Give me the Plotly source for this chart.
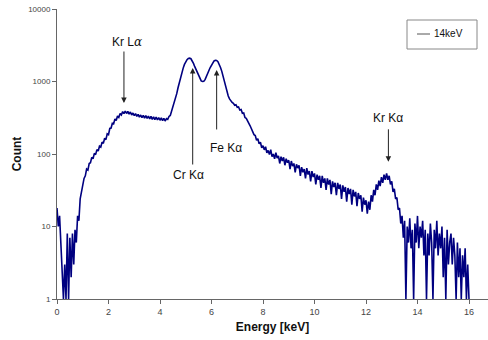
import numpy as np
import plotly.graph_objects as go

# channel energies (keV), 0.05 keV steps
energy_step = 0.05
counts = [
    18, 10, 14, 6, 3, 1, 3, 1, 8, 1, 7, 2, 8, 3, 9, 6, 14, 12, 24, 30,
    37, 46, 50, 62, 60, 74, 76, 90, 86, 102, 98, 115, 110, 128, 124, 146, 140, 165, 158, 190,
    185, 225, 228, 265, 262, 305, 290, 335, 320, 362, 345, 385, 360, 392, 362, 388, 355, 380, 345, 368,
    338, 360, 330, 352, 322, 345, 318, 342, 312, 338, 310, 332, 305, 330, 300, 326, 298, 322, 296, 318,
    292, 315, 288, 310, 285, 308, 300, 330, 340, 390, 430, 490, 560, 680, 820, 980, 1150, 1350, 1530, 1720,
    1880, 2000, 2080, 2100, 2060, 1950, 1780, 1600, 1450, 1300, 1170, 1080, 1020, 1000, 1010, 1060, 1150, 1280, 1420, 1560,
    1700, 1820, 1920, 1960, 1950, 1880, 1740, 1560, 1380, 1180, 990, 830, 710, 630, 575, 540, 515, 500, 470, 478,
    440, 445, 405, 410, 365, 368, 318, 310, 278, 265, 245, 222, 212, 185, 180, 155, 162, 138, 145, 122,
    130, 114, 126, 104, 112, 98, 115, 92, 100, 86, 104, 88, 94, 74, 92, 80, 90, 70, 86, 76,
    82, 62, 80, 68, 74, 56, 72, 64, 70, 50, 66, 56, 62, 46, 64, 52, 58, 42, 58, 48,
    54, 38, 52, 44, 50, 34, 50, 40, 46, 32, 46, 38, 44, 28, 42, 35, 40, 27, 40, 33,
    38, 24, 37, 30, 35, 22, 34, 28, 33, 20, 32, 26, 30, 19, 29, 24, 27, 16, 25, 20,
    23, 15, 22, 17, 27, 22, 32, 27, 38, 32, 43, 36, 48, 40, 52, 44, 54, 44, 50, 38,
    42, 30, 33, 24, 25, 17, 18, 11, 14, 7, 12, 1, 10, 6, 13, 5, 9, 1, 11, 6,
    14, 5, 10, 7, 12, 4, 9, 1, 8, 4, 11, 6, 1, 9, 5, 12, 4, 8, 5, 10,
    2, 7, 1, 9, 3, 6, 8, 3, 7, 4, 1, 6, 2, 5, 1, 4, 2, 5, 1, 3,
    1,
]
energy = np.round(np.arange(len(counts)) * energy_step, 2)

x_ticks = [0, 2, 4, 6, 8, 10, 12, 14, 16]
y_ticks = [1, 10, 100, 1000, 10000]
y_tick_labels = ["1", "10", "100", "1000", "10000"]
series_name = "14keV"

# peak labels: (label, arrow head energy, arrow head count, tail offset px)
peaks = [
    ("Kr L<span style='font-family:DejaVu Serif;font-style:italic'>α</span>", 2.60, 505, -53),
    ("Cr Kα", 5.27, 1535, 98),
    ("Fe Kα", 6.20, 1442, 61),
    ("Kr Kα", 12.87, 78, -34),
]

W, H = 488, 340
L, R, T, B = 57, 0, 9, 41
pw, ph = W - L - R, H - T - B


def px(xp):
    return (xp - L) / pw


def py(yp):
    return (H - B - yp) / ph


fig = go.Figure()
fig.add_trace(go.Scatter(
    x=energy, y=counts, mode="lines", name=series_name,
    line=dict(color="#000080", width=1.6), showlegend=False,
))

font = "Liberation Sans, Arial, sans-serif"
annotations = []
for label, e, c, off in peaks:
    annotations.append(dict(
        x=e, y=np.log10(c), xref="x", yref="y", text="", showarrow=True,
        ax=0, ay=off, arrowhead=2, arrowsize=1.1, arrowwidth=1, arrowcolor="#222",
    ))
label_pos = [(127, 42), (188, 175), (226, 148), (388, 118)]
for (label, e, c, off), (lx, ly) in zip(peaks, label_pos):
    annotations.append(dict(
        x=px(lx), y=py(ly), xref="paper", yref="paper", text=label,
        showarrow=False, xanchor="center", yanchor="middle",
        font=dict(family=font, size=12, color="#111"),
    ))
annotations.append(dict(
    x=px(432), y=py(34), xref="paper", yref="paper", text=series_name,
    showarrow=False, xanchor="left", yanchor="middle",
    font=dict(family=font, size=10, color="#111"),
))

shapes = [
    dict(type="rect", xref="paper", yref="paper", x0=px(407), x1=px(477), y0=py(49), y1=py(20),
         line=dict(color="#888", width=1), fillcolor="white"),
    dict(type="line", xref="paper", yref="paper", x0=px(417), x1=px(430), y0=py(34), y1=py(34),
         line=dict(color="#555", width=1)),
]

fig.update_layout(
    width=W, height=H,
    margin=dict(l=L, r=R, t=T, b=B, autoexpand=False),
    paper_bgcolor="white", plot_bgcolor="white",
    annotations=annotations, shapes=shapes,
    font=dict(family=font, color="#333"),
)
fig.update_xaxes(
    range=[0, pw / 25.75], tickvals=x_ticks, ticks="outside", ticklen=4, tickcolor="#666",
    showline=True, linecolor="#666", linewidth=1, showgrid=False, zeroline=False,
    tickfont=dict(size=9, color="#444", family=font), automargin=False,
    title=dict(text="<b>Energy [keV]</b>", font=dict(size=12, color="#111", family=font), standoff=6),
)
fig.update_yaxes(
    type="log", range=[0, 4], tickvals=y_ticks, ticktext=y_tick_labels, ticks="outside",
    ticklen=4, tickcolor="#666", showline=True, linecolor="#666", linewidth=1,
    showgrid=False, zeroline=False, automargin=False,
    tickfont=dict(size=8, color="#444", family=font),
    title=dict(text="<b>Count</b>", font=dict(size=12, color="#111", family=font), standoff=3),
)

fig.write_html("out.html", config={"displayModeBar": False},
               post_script="document.body.style.margin='0';")
